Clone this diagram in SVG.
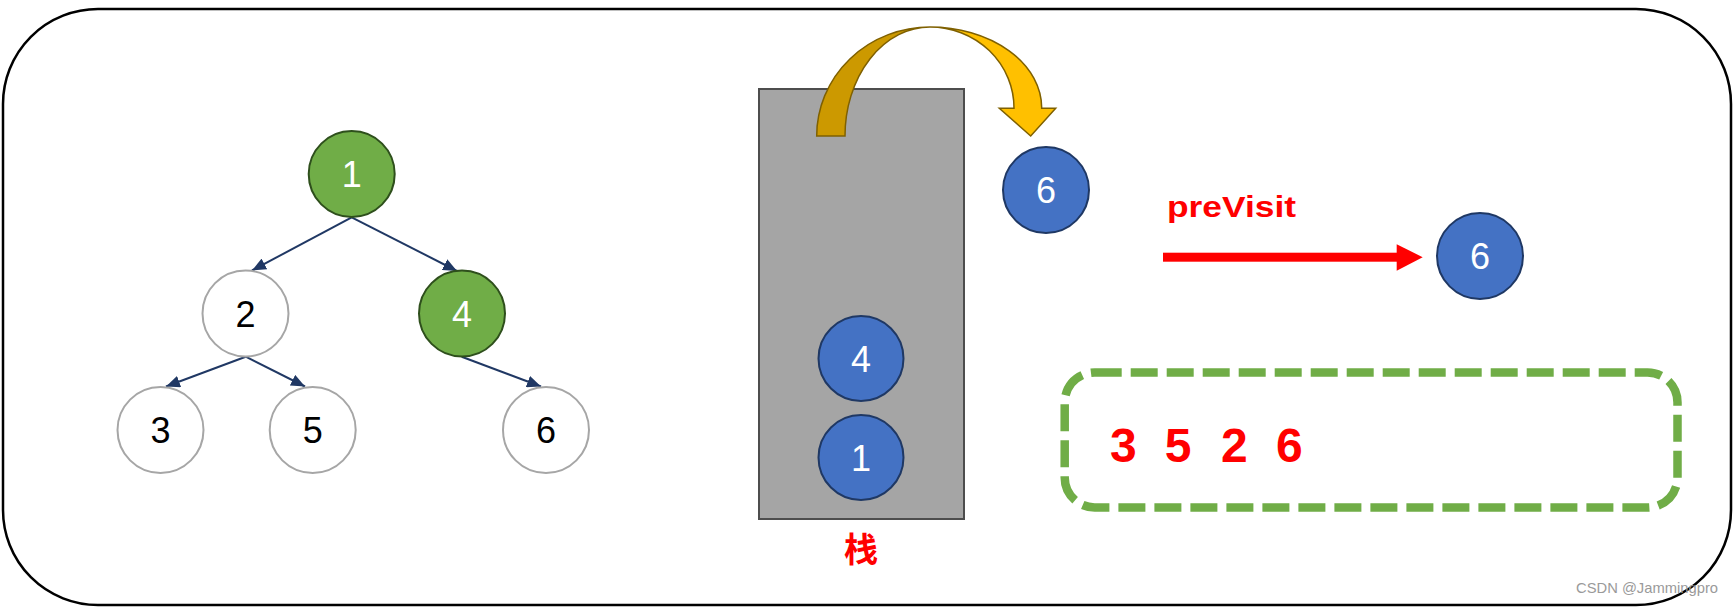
<svg xmlns="http://www.w3.org/2000/svg" width="1734" height="608" viewBox="0 0 1734 608">
<style>
.num{font-family:"Liberation Sans","Noto Sans",Arial,sans-serif;font-size:36px;text-anchor:middle}
.w{fill:#ffffff}
.k{fill:#000000}
.green{fill:#70AD47;stroke:#2E4F1C;stroke-width:2}
.white{fill:#ffffff;stroke:#A6A6A6;stroke-width:2}
.blue{fill:#4472C4;stroke:#1F3864;stroke-width:2}
.edge{stroke:#203864;stroke-width:2;fill:none}
.red{fill:#FF0000;font-family:"Liberation Sans","Noto Sans","Noto Sans CJK SC",sans-serif;font-weight:bold}
</style>
<defs>
<marker id="ah" markerUnits="userSpaceOnUse" markerWidth="14" markerHeight="12" viewBox="0 0 14 12" refX="14" refY="6" orient="auto">
<path d="M0,0 L14,6 L0,12 Z" fill="#203864"/>
</marker>
</defs>
<rect x="3" y="9" width="1728" height="596" rx="95" ry="95" fill="#ffffff" stroke="#000000" stroke-width="2.5"/>

<g id="connectors">
<line class="edge" x1="351.7" y1="217.3" x2="252" y2="270.5" marker-end="url(#ah)"/>
<line class="edge" x1="351.7" y1="217.3" x2="457" y2="271" marker-end="url(#ah)"/>
<line class="edge" x1="245.7" y1="356.7" x2="166" y2="386.5" marker-end="url(#ah)"/>
<line class="edge" x1="245.7" y1="356.7" x2="305" y2="386.5" marker-end="url(#ah)"/>
<line class="edge" x1="461.7" y1="356.7" x2="541" y2="386.5" marker-end="url(#ah)"/>
</g>

<g id="node1"><circle class="green" cx="351.7" cy="174" r="43"/><text class="num w" x="351.7" y="187">1</text></g>
<g id="node2"><circle class="white" cx="245.5" cy="313.5" r="43"/><text class="num k" x="245.5" y="326.5">2</text></g>
<g id="node4"><circle class="green" cx="462" cy="313.5" r="43"/><text class="num w" x="462" y="326.5">4</text></g>
<g id="node3"><circle class="white" cx="160.5" cy="430" r="43"/><text class="num k" x="160.5" y="443">3</text></g>
<g id="node5"><circle class="white" cx="312.7" cy="430" r="43"/><text class="num k" x="312.7" y="443">5</text></g>
<g id="node6"><circle class="white" cx="546" cy="430" r="43"/><text class="num k" x="546" y="443">6</text></g>

<g id="stack">
<rect x="759" y="89" width="205" height="430" fill="#A5A5A5" stroke="#4D4D4D" stroke-width="2"/>
</g>
<g id="stack4"><circle class="blue" cx="861" cy="358.5" r="42.5"/><text class="num w" x="861" y="371.5">4</text></g>
<g id="stack1"><circle class="blue" cx="861" cy="457.5" r="42.5"/><text class="num w" x="861" y="470.5">1</text></g>
<g id="stackLabel"><text class="red" x="861" y="562" font-size="34" text-anchor="middle">栈</text></g>

<g id="popArrow">
<path d="M816.7,136 A113.3,109 0 0 1 930,27 A85,109 0 0 0 845,136 Z" fill="#CC9900" stroke="#7F6000" stroke-width="1.5"/>
<path d="M930,27 A111.7,81 0 0 1 1041.7,108.3 L1055.7,108.3 L1030.7,136 L999.3,108.3 L1014,108.3 A84,81 0 0 0 930,27 Z" fill="#FFC000" stroke="#7F6000" stroke-width="1.5"/>
</g>

<g id="popped6"><circle class="blue" cx="1046" cy="190" r="43"/><text class="num w" x="1046" y="203">6</text></g>

<g id="visitArrow">
<text class="red" x="1167" y="217" font-size="30" textLength="129" lengthAdjust="spacingAndGlyphs">preVisit</text>
<rect x="1163" y="252.7" width="234" height="9" fill="#FF0000"/>
<path d="M1396.7,244.3 L1422.7,257.2 L1396.7,270.7 Z" fill="#FF0000"/>
</g>

<g id="visited6"><circle class="blue" cx="1480" cy="256" r="43"/><text class="num w" x="1480" y="269">6</text></g>

<g id="output">
<rect x="1064.7" y="372.5" width="612.8" height="135" rx="30" ry="30" fill="none" stroke="#70AD47" stroke-width="8.5" stroke-dasharray="27 9"/>
<text class="red" font-size="48"><tspan x="1110" y="461.7">3</tspan> <tspan x="1164.7" y="461.7">5</tspan> <tspan x="1220.9" y="461.7">2</tspan> <tspan x="1276" y="461.7">6</tspan></text>
</g>

<text x="1576" y="593" font-family="Liberation Sans,Arial,sans-serif" font-size="15" fill="#9A9A9A" textLength="142" lengthAdjust="spacingAndGlyphs">CSDN @Jammingpro</text>
</svg>
